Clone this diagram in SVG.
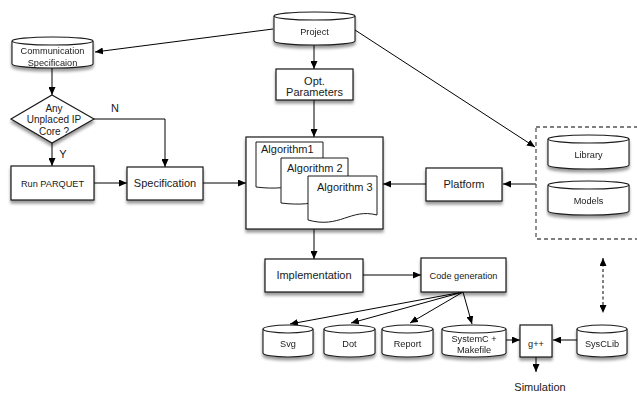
<svg xmlns="http://www.w3.org/2000/svg" width="637" height="393" viewBox="0 0 637 393">
<defs>
<filter id="sh" x="-20%" y="-20%" width="140%" height="160%">
<feDropShadow dx="0" dy="3" stdDeviation="1.8" flood-color="#000" flood-opacity="0.4"/>
</filter>
<marker id="ah" markerWidth="8" markerHeight="7" refX="8" refY="3.5" orient="auto" markerUnits="userSpaceOnUse">
<path d="M0,0 L8,3.5 L0,7 Z" fill="#000"/>
</marker>
<marker id="ahs" markerWidth="8" markerHeight="7" refX="0" refY="3.5" orient="auto" markerUnits="userSpaceOnUse">
<path d="M8,0 L0,3.5 L8,7 Z" fill="#000"/>
</marker>
</defs>
<style>
.box{fill:#fff;stroke:#1a1a1a;stroke-width:1.2;filter:url(#sh)}
.cyl{fill:#fff;stroke:#1a1a1a;stroke-width:1.1}
.doc{fill:#fff;stroke:#1a1a1a;stroke-width:1}
.t{font-family:"Liberation Sans",Arial,sans-serif;fill:#1a1a1a;text-anchor:middle}
.st{text-anchor:start}
.s9{font-size:9.2px}
.s10{font-size:10px}
.s11{font-size:11px}
.ln{fill:none;stroke:#000;stroke-width:1;marker-end:url(#ah)}
</style>

<g id="connectors">
<line class="ln" x1="273" y1="29" x2="95" y2="52"/>
<line class="ln" x1="314" y1="45" x2="314" y2="69"/>
<line class="ln" x1="314" y1="100" x2="314" y2="137"/>
<line class="ln" x1="355" y1="30" x2="535" y2="147"/>
<line class="ln" x1="52" y1="68" x2="52" y2="95"/>
<polyline class="ln" points="94,119 165,119 165,167"/>
<line class="ln" x1="52" y1="143" x2="52" y2="166"/>
<line class="ln" x1="94" y1="183" x2="127" y2="183"/>
<line class="ln" x1="203" y1="183" x2="246" y2="183"/>
<line class="ln" x1="426" y1="184" x2="383" y2="184"/>
<line class="ln" x1="536" y1="184" x2="503" y2="184"/>
<line class="ln" x1="314" y1="229" x2="314" y2="259"/>
<line class="ln" x1="363" y1="275" x2="421" y2="275"/>
<line class="ln" x1="463" y1="292" x2="290" y2="324"/>
<line class="ln" x1="463" y1="292" x2="351" y2="323"/>
<line class="ln" x1="463" y1="292" x2="410" y2="323"/>
<line class="ln" x1="463" y1="292" x2="472" y2="324"/>
<line class="ln" x1="506" y1="340" x2="520" y2="340"/>
<line class="ln" x1="577" y1="340" x2="553" y2="340"/>
<line class="ln" x1="536" y1="357" x2="536" y2="372"/>
<line x1="603" y1="258" x2="603" y2="313" stroke="#000" stroke-width="1" stroke-dasharray="3,2.5" marker-start="url(#ahs)" marker-end="url(#ah)"/>
<text class="t s11" x="115" y="112">N</text>
<text class="t s11" x="63" y="158">Y</text>
</g>

<g id="project" filter="url(#sh)">
<path class="cyl" d="M274,16 A40.5,4 0 0 1 355,16 L355,41 A40.5,4 0 0 1 274,41 Z"/>
<path class="cyl" d="M274,16 A40.5,4 0 0 0 355,16" fill="none"/>
<text class="t s9" x="314.5" y="35">Project</text>
</g>

<g id="comm-spec" filter="url(#sh)">
<path class="cyl" d="M12,41 A40.5,4 0 0 1 93,41 L93,64 A40.5,4 0 0 1 12,64 Z"/>
<path class="cyl" d="M12,41 A40.5,4 0 0 0 93,41" fill="none"/>
<text class="t s9" x="52.5" y="54">Communication</text>
<text class="t s9" x="52.5" y="65.5">Specificaion</text>
</g>

<g id="decision">
<path class="box" d="M52,95 L94,119 L52,143 L11,119 Z"/>
<text class="t s10" x="54" y="111.5">Any</text>
<text class="t s10" x="54" y="123">Unplaced IP</text>
<text class="t s10" x="54" y="135">Core ?</text>
</g>

<g id="opt-params">
<rect class="box" x="276" y="69" width="77" height="31"/>
<text class="t s11" x="314.5" y="85">Opt.</text>
<text class="t s11" x="314.5" y="96">Parameters</text>
</g>

<g id="run-parquet">
<rect class="box" x="11" y="166" width="83" height="34"/>
<text class="t s9" x="52.5" y="186.5">Run PARQUET</text>
</g>

<g id="specification">
<rect class="box" x="127" y="167" width="76" height="33"/>
<text class="t s11" x="165" y="187">Specification</text>
</g>

<g id="algorithms">
<rect class="box" x="246" y="137" width="137" height="92"/>
<path class="doc" d="M256,142 H323 V182 C305,178 295,192 256,187 Z"/>
<text class="t st s11" x="261" y="153">Algorithm1</text>
<path class="doc" d="M281,158 H348 V198 C330,194 320,208 281,203 Z"/>
<text class="t st s11" x="287" y="172">Algorithm 2</text>
<path class="doc" d="M308,176 H377 V215 C350,208 340,229 308,220 Z"/>
<text class="t st s11" x="317" y="191">Algorithm 3</text>
</g>

<g id="platform">
<rect class="box" x="426" y="168" width="76" height="33"/>
<text class="t s11" x="464" y="188">Platform</text>
</g>

<g id="lib-group">
<rect x="536" y="127" width="104" height="112" fill="none" stroke="#555" stroke-width="1.3" stroke-dasharray="4,3"/>
<g id="library" filter="url(#sh)">
<path class="cyl" d="M548,139 A40.5,4 0 0 1 629,139 L629,165 A40.5,4 0 0 1 548,165 Z"/>
<path class="cyl" d="M548,139 A40.5,4 0 0 0 629,139" fill="none"/>
<text class="t s9" x="588.5" y="158">Library</text>
</g>
<g id="models" filter="url(#sh)">
<path class="cyl" d="M548,185 A40.5,4 0 0 1 629,185 L629,211 A40.5,4 0 0 1 548,211 Z"/>
<path class="cyl" d="M548,185 A40.5,4 0 0 0 629,185" fill="none"/>
<text class="t s9" x="588.5" y="204">Models</text>
</g>
</g>

<g id="implementation">
<rect class="box" x="265" y="259" width="98" height="33"/>
<text class="t s11" x="314" y="279">Implementation</text>
</g>

<g id="code-generation">
<rect class="box" x="421" y="258" width="85" height="34"/>
<text class="t s9" x="463.5" y="278.5">Code generation</text>
</g>

<g id="svg" filter="url(#sh)">
<path class="cyl" d="M263,329 A25,4 0 0 1 313,329 L313,353 A25,4 0 0 1 263,353 Z"/>
<path class="cyl" d="M263,329 A25,4 0 0 0 313,329" fill="none"/>
<text class="t s9" x="288" y="347">Svg</text>
</g>

<g id="dot" filter="url(#sh)">
<path class="cyl" d="M324,329 A25.5,4 0 0 1 375,329 L375,353 A25.5,4 0 0 1 324,353 Z"/>
<path class="cyl" d="M324,329 A25.5,4 0 0 0 375,329" fill="none"/>
<text class="t s9" x="349.5" y="347">Dot</text>
</g>

<g id="report" filter="url(#sh)">
<path class="cyl" d="M382,329 A25.5,4 0 0 1 433,329 L433,353 A25.5,4 0 0 1 382,353 Z"/>
<path class="cyl" d="M382,329 A25.5,4 0 0 0 433,329" fill="none"/>
<text class="t s9" x="407.5" y="347">Report</text>
</g>

<g id="systemc" filter="url(#sh)">
<path class="cyl" d="M442,329 A32,4 0 0 1 506,329 L506,353 A32,4 0 0 1 442,353 Z"/>
<path class="cyl" d="M442,329 A32,4 0 0 0 506,329" fill="none"/>
<text class="t s9" x="474" y="342">SystemC +</text>
<text class="t s9" x="474" y="353">Makefile</text>
</g>

<g id="gpp">
<rect class="box" x="520" y="325" width="32" height="32"/>
<text class="t s9" x="536" y="347">g++</text>
</g>

<g id="sysclib" filter="url(#sh)">
<path class="cyl" d="M577,329 A25,4 0 0 1 627,329 L627,353 A25,4 0 0 1 577,353 Z"/>
<path class="cyl" d="M577,329 A25,4 0 0 0 627,329" fill="none"/>
<text class="t s9" x="602" y="347">SysCLib</text>
</g>

<g id="simulation">
<text class="t s11" x="540" y="391">Simulation</text>
</g>
</svg>
